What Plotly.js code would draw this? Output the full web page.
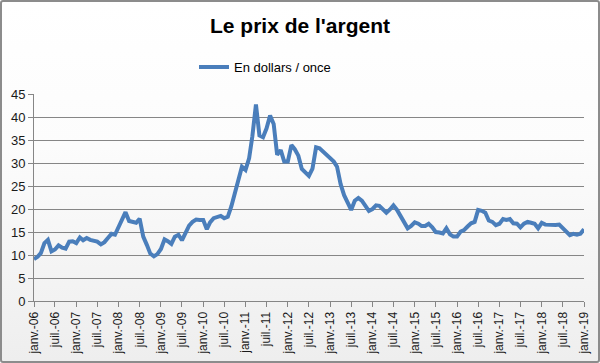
<!DOCTYPE html>
<html>
<head>
<meta charset="utf-8">
<script src="https://cdn.plot.ly/plotly-3.0.1.min.js"></script>
<style>
html,body{margin:0;padding:0;}
#wrap{width:600px;height:363px;box-sizing:border-box;border:2px solid #8c8c8c;border-radius:3px;
background:linear-gradient(to bottom,#ffffff 0%,#fcfcfc 40%,#eeeeee 100%);overflow:hidden;}
#chart{width:596px;height:359px;}
</style>
</head>
<body>
<div id="wrap"><div id="chart"></div></div>
<script>
// Monthly silver price, USD per ounce, janv. 2006 -> janv. 2019
const startYear = 2006;
const prices = [
  // 2006
  9.1, 9.6, 10.4, 12.6, 13.3, 10.8, 11.2, 12.1, 11.6, 11.4, 12.9, 13.0,
  // 2007
  12.6, 13.8, 13.2, 13.7, 13.3, 13.1, 12.9, 12.3, 12.8, 13.7, 14.6, 14.4,
  // 2008
  16.0, 17.6, 19.3, 17.4, 17.1, 17.0, 17.9, 14.0, 12.2, 10.3, 9.7, 10.2,
  // 2009
  11.3, 13.4, 13.0, 12.4, 14.0, 14.4, 13.2, 14.6, 16.4, 17.2, 17.7, 17.6,
  // 2010
  17.6, 15.6, 17.1, 18.0, 18.2, 18.5, 18.0, 18.3, 20.6, 23.3, 26.4, 29.2,
  // 2011
  28.5, 31.0, 35.8, 42.7, 36.0, 35.6, 37.5, 40.3, 38.5, 31.8, 32.8, 30.3,
  // 2012
  30.3, 33.9, 33.0, 31.6, 28.7, 28.0, 27.2, 28.8, 33.4, 33.2, 32.5, 31.8,
  // 2013
  31.1, 30.3, 29.2, 25.4, 23.0, 21.1, 19.8, 21.8, 22.4, 21.8, 20.8, 19.6,
  // 2014
  20.0, 20.8, 20.7, 19.8, 19.2, 19.9, 20.8, 19.8, 18.4, 17.2, 15.8, 16.3,
  // 2015
  17.1, 16.8, 16.3, 16.3, 16.8, 16.0, 15.0, 14.9, 14.7, 15.8, 14.5, 14.0,
  // 2016
  14.0, 15.1, 15.4, 16.2, 16.9, 17.2, 19.8, 19.6, 19.2, 17.5, 17.2, 16.5,
  // 2017
  16.8, 17.8, 17.6, 17.8, 16.9, 16.8, 16.0, 16.8, 17.2, 17.0, 16.8, 15.8,
  // 2018
  17.0, 16.6, 16.5, 16.6, 16.5, 16.6, 15.8, 15.0, 14.3, 14.6, 14.4, 14.6,
  // 2019
  15.6
];
const monthAbbr = ['janv.', 'juil.'];
const seriesName = 'En dollars / once';
const chartTitle = "Le prix de l'argent";

// Dates for each monthly value
const dates = prices.map((_, i) => {
  const y = startYear + Math.floor(i / 12);
  const m = (i % 12) + 1;
  return y + '-' + String(m).padStart(2, '0') + '-01';
});
// Tick every 6 months
const tickvals = [], ticktext = [];
dates.forEach((d, i) => {
  if (i % 6 === 0) {
    tickvals.push(d);
    const y = startYear + Math.floor(i / 12);
    ticktext.push(monthAbbr[(i % 12) / 6] + '-' + String(y % 100).padStart(2, '0'));
  }
});

const trace = {
  x: dates, y: prices, type: 'scatter', mode: 'lines', name: seriesName,
  line: {color: '#4a7ebb', width: 4}
};

const layout = {
  width: 596, height: 359,
  paper_bgcolor: 'rgba(0,0,0,0)', plot_bgcolor: 'rgba(0,0,0,0)',
  margin: {l: 32, r: 14, t: 92, b: 60},
  font: {family: 'Liberation Sans, Arial, sans-serif', color: '#1a1a1a'},
  title: {text: '<b>' + chartTitle + '</b>', font: {size: 21, color: '#000'},
          x: 0.5, xanchor: 'center', y: 0.935, yanchor: 'middle', yref: 'container'},
  showlegend: true,
  legend: {orientation: 'h', x: 0.42, xanchor: 'center', y: 1.13, yanchor: 'middle',
           font: {size: 13, color: '#000'}, bgcolor: 'rgba(0,0,0,0)'},
  xaxis: {
    type: 'date', range: [dates[0], dates[dates.length - 1]],
    tickvals: tickvals, ticktext: ticktext, tickangle: -90,
    tickfont: {size: 12, color: '#1a1a1a'},
    showgrid: false, showline: true, linecolor: '#868686', linewidth: 1,
    ticks: 'outside', ticklen: 5, tickcolor: '#868686', zeroline: false
  },
  yaxis: {
    range: [0, 45], dtick: 5, tick0: 0,
    tickfont: {size: 13, color: '#1a1a1a'},
    showgrid: true, gridcolor: '#868686', gridwidth: 1,
    showline: true, linecolor: '#868686', linewidth: 1,
    ticks: 'outside', ticklen: 5, tickcolor: '#868686', zeroline: false
  }
};

Plotly.newPlot('chart', [trace], layout, {displayModeBar: false, staticPlot: true});
</script>
</body>
</html>
